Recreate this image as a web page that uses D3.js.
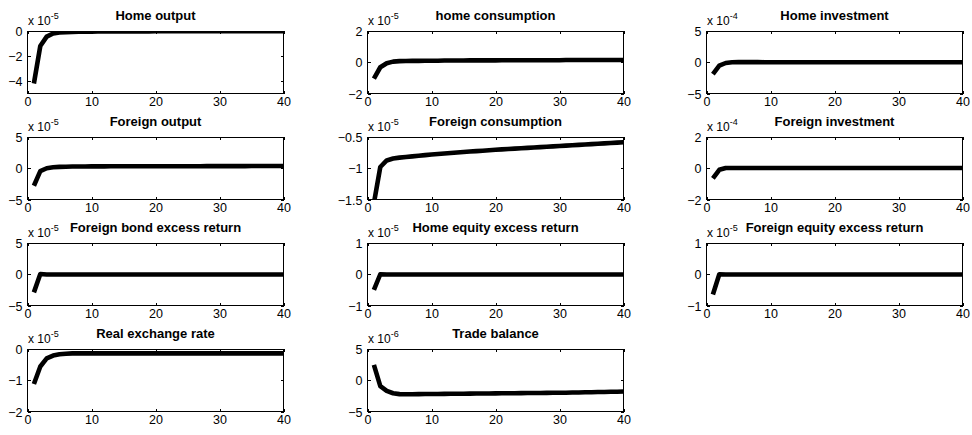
<!DOCTYPE html>
<html>
<head>
<meta charset="utf-8">
<script src="https://cdn.jsdelivr.net/npm/d3@7"></script>
<style>
  html, body { margin: 0; padding: 0; background: #fff; }
  svg { display: block; }
  text { font-family: "Liberation Sans", Arial, Helvetica, sans-serif; fill: #000; }
</style>
</head>
<body>
<svg id="chart" width="972" height="435"></svg>
<script>
// Impulse responses over a 40-period horizon (values in units of the panel's exponent)
const horizon = d3.range(1, 41);

const homeOutput = [-4.2, -1.2, -0.45, -0.2, -0.12, -0.09, -0.07, -0.06, -0.05, -0.05,
  -0.04, -0.04, -0.04, -0.03, -0.03, -0.03, -0.03, -0.03, -0.03, -0.02,
  -0.02, -0.02, -0.02, -0.02, -0.02, -0.02, -0.02, -0.01, -0.01, -0.01,
  -0.01, -0.01, -0.01, -0.01, -0.01, -0.01, -0.01, -0.01, -0.01, -0.01];
const homeConsumption = [-1.05, -0.32, -0.06, 0.04, 0.07, 0.08, 0.09, 0.09, 0.1, 0.1,
  0.1, 0.11, 0.11, 0.11, 0.11, 0.12, 0.12, 0.12, 0.12, 0.12,
  0.13, 0.13, 0.13, 0.13, 0.13, 0.13, 0.13, 0.13, 0.13, 0.13,
  0.14, 0.14, 0.14, 0.14, 0.14, 0.14, 0.14, 0.14, 0.14, 0.14];
const homeInvestment = [-1.9, -0.55, -0.12, 0.0, 0.02, 0.02, 0.02, 0.02, 0.01, 0.01,
  0.01, 0.01, 0.01, 0.01, 0.01, 0.01, 0.01, 0.01, 0.01, 0.01,
  0.01, 0.01, 0.01, 0.01, 0.01, 0.01, 0.01, 0.01, 0.01, 0.01,
  0.01, 0.01, 0.01, 0.01, 0.01, 0.01, 0.01, 0.01, 0.01, 0.01];
const foreignOutput = [-2.8, -0.45, 0.0, 0.15, 0.22, 0.25, 0.27, 0.28, 0.29, 0.3,
  0.3, 0.3, 0.31, 0.31, 0.31, 0.31, 0.32, 0.32, 0.32, 0.32,
  0.32, 0.33, 0.33, 0.33, 0.33, 0.33, 0.33, 0.34, 0.34, 0.34,
  0.34, 0.34, 0.34, 0.34, 0.35, 0.35, 0.35, 0.35, 0.35, 0.35];
const foreignConsumption = [-1.56, -0.98, -0.875, -0.845, -0.83, -0.82, -0.81, -0.8, -0.79, -0.78,
  -0.772, -0.764, -0.756, -0.748, -0.74, -0.733, -0.726, -0.719, -0.712, -0.705,
  -0.698, -0.692, -0.686, -0.68, -0.674, -0.668, -0.662, -0.656, -0.65, -0.644,
  -0.638, -0.632, -0.626, -0.62, -0.614, -0.608, -0.602, -0.596, -0.59, -0.585];
const foreignInvestment = [-0.65, -0.1, 0.02, 0.02, 0.02, 0.02, 0.02, 0.02, 0.02, 0.02,
  0.02, 0.02, 0.02, 0.02, 0.02, 0.02, 0.02, 0.02, 0.02, 0.02,
  0.02, 0.02, 0.02, 0.02, 0.02, 0.02, 0.02, 0.02, 0.02, 0.02,
  0.02, 0.02, 0.02, 0.02, 0.02, 0.02, 0.02, 0.02, 0.02, 0.02];
const foreignBondReturn = [-2.9, 0.05, -0.05, -0.04, -0.05, -0.05, -0.04, -0.05, -0.05, -0.04,
  -0.05, -0.05, -0.04, -0.05, -0.05, -0.04, -0.05, -0.05, -0.04, -0.05,
  -0.05, -0.04, -0.05, -0.05, -0.04, -0.05, -0.05, -0.04, -0.05, -0.05,
  -0.04, -0.05, -0.05, -0.04, -0.05, -0.05, -0.04, -0.05, -0.05, -0.04];
const homeEquityReturn = [-0.5, 0.0, -0.01, -0.01, -0.01, -0.01, -0.01, -0.01, -0.01, -0.01,
  -0.01, -0.01, -0.01, -0.01, -0.01, -0.01, -0.01, -0.01, -0.01, -0.01,
  -0.01, -0.01, -0.01, -0.01, -0.01, -0.01, -0.01, -0.01, -0.01, -0.01,
  -0.01, -0.01, -0.01, -0.01, -0.01, -0.01, -0.01, -0.01, -0.01, -0.01];
const foreignEquityReturn = [-0.65, 0.0, -0.01, -0.01, -0.01, -0.01, -0.01, -0.01, -0.01, -0.01,
  -0.01, -0.01, -0.01, -0.01, -0.01, -0.01, -0.01, -0.01, -0.01, -0.01,
  -0.01, -0.01, -0.01, -0.01, -0.01, -0.01, -0.01, -0.01, -0.01, -0.01,
  -0.01, -0.01, -0.01, -0.01, -0.01, -0.01, -0.01, -0.01, -0.01, -0.01];
const realExchangeRate = [-1.12, -0.56, -0.3, -0.21, -0.17, -0.15, -0.14, -0.14, -0.14, -0.14,
  -0.14, -0.14, -0.14, -0.14, -0.14, -0.14, -0.14, -0.14, -0.14, -0.14,
  -0.14, -0.14, -0.14, -0.14, -0.14, -0.14, -0.14, -0.14, -0.14, -0.14,
  -0.14, -0.14, -0.14, -0.14, -0.14, -0.14, -0.14, -0.14, -0.14, -0.14];
const tradeBalance = [2.45, -0.95, -1.7, -2.08, -2.22, -2.24, -2.23, -2.22, -2.21, -2.2,
  -2.19, -2.18, -2.17, -2.16, -2.15, -2.14, -2.13, -2.12, -2.11, -2.1,
  -2.09, -2.08, -2.07, -2.06, -2.05, -2.04, -2.03, -2.02, -2.01, -2.0,
  -1.99, -1.97, -1.95, -1.93, -1.91, -1.89, -1.87, -1.85, -1.83, -1.8];

const panelTitles = ["Home output", "home consumption", "Home investment",
  "Foreign output", "Foreign consumption", "Foreign investment",
  "Foreign bond excess return", "Home equity excess return", "Foreign equity excess return",
  "Real exchange rate", "Trade balance"];
const panelSeries = [homeOutput, homeConsumption, homeInvestment,
  foreignOutput, foreignConsumption, foreignInvestment,
  foreignBondReturn, homeEquityReturn, foreignEquityReturn,
  realExchangeRate, tradeBalance];
const panelExponents = ["-5", "-5", "-4", "-5", "-5", "-4", "-5", "-5", "-5", "-5", "-6"];
const panelYDomains = [[-5, 0], [-2, 2], [-5, 5], [-5, 5], [-1.5, -0.5], [-2, 2],
  [-5, 5], [-1, 1], [-1, 1], [-2, 0], [-5, 5]];
const panelYTicks = [[-4, -2, 0], [-2, 0, 2], [-5, 0, 5], [-5, 0, 5], [-1.5, -1, -0.5], [-2, 0, 2],
  [-5, 0, 5], [-1, 0, 1], [-1, 0, 1], [-2, -1, 0], [-5, 0, 5]];
const xTicks = [0, 10, 20, 30, 40];

// Subplot grid geometry
const colLeft = [27.5, 367.5, 706.5];
const rowTop = [31, 137, 243, 349];
const plotW = 256, plotH = 62.5;
const tickLen = 3;

const svg = d3.select("#chart");

panelTitles.forEach((title, i) => {
  const left = colLeft[i % 3], top = rowTop[Math.floor(i / 3)];
  const g = svg.append("g").attr("transform", `translate(${left},${top})`);

  const x = d3.scaleLinear().domain([0, 40]).range([0, plotW]);
  const y = d3.scaleLinear().domain(panelYDomains[i]).range([plotH, 0]);

  g.append("clipPath").attr("id", "clip" + i)
    .append("rect").attr("width", plotW).attr("height", plotH);

  // data line
  const line = d3.line().x((d, k) => x(horizon[k])).y(d => y(d));
  g.append("path")
    .datum(panelSeries[i])
    .attr("clip-path", `url(#clip${i})`)
    .attr("d", line)
    .attr("fill", "none")
    .attr("stroke", "#000")
    .attr("stroke-width", 4.6)
    .attr("stroke-linejoin", "round");

  // axes: ticks point inward on all four sides
  const axisStyle = sel => {
    sel.selectAll(".domain").remove();
    sel.selectAll("line").attr("stroke", "#000").attr("shape-rendering", "crispEdges");
    sel.selectAll("text").style("font-size", "12.5px").attr("fill", "#000");
  };
  g.append("g").attr("transform", `translate(0,${plotH})`)
    .call(d3.axisBottom(x).tickValues(xTicks).tickFormat(d3.format("d"))
      .tickSizeInner(-tickLen).tickSizeOuter(0).tickPadding(5))
    .call(axisStyle)
    .call(s => s.selectAll("text").attr("y", 4).attr("dy", "0.71em"));
  g.append("g")
    .call(d3.axisTop(x).tickValues(xTicks).tickFormat("").tickSizeInner(-tickLen).tickSizeOuter(0))
    .call(axisStyle);
  g.append("g")
    .call(d3.axisLeft(y).tickValues(panelYTicks[i]).tickFormat(d => d3.format("")(d))
      .tickSizeInner(-tickLen).tickSizeOuter(0).tickPadding(5))
    .call(axisStyle)
    .call(s => s.selectAll("text").attr("x", -5).attr("dy", "0.36em"));
  g.append("g").attr("transform", `translate(${plotW},0)`)
    .call(d3.axisRight(y).tickValues(panelYTicks[i]).tickFormat("").tickSizeInner(-tickLen).tickSizeOuter(0))
    .call(axisStyle);

  // box
  g.append("rect")
    .attr("x", 0).attr("y", 0).attr("width", plotW).attr("height", plotH)
    .attr("fill", "none").attr("stroke", "#000").attr("stroke-width", 1)
    .attr("shape-rendering", "crispEdges");

  // title
  g.append("text")
    .attr("x", plotW / 2).attr("y", -11)
    .attr("text-anchor", "middle")
    .style("font-size", "13px").style("font-weight", "bold")
    .text(title);

  // exponent label
  const ex = g.append("text").attr("x", 0.5).attr("y", -6).style("font-size", "12px");
  ex.append("tspan").text("x 10");
  ex.append("tspan").attr("dy", -6).style("font-size", "9px").text(panelExponents[i]);
});
</script>
</body>
</html>
